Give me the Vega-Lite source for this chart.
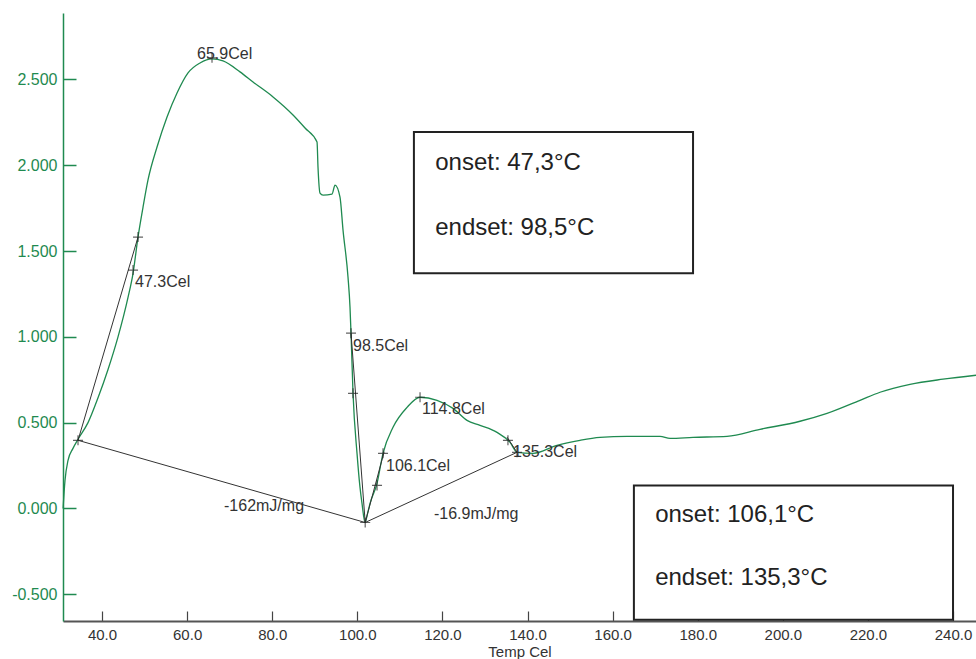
{
  "$schema": "https://vega.github.io/schema/vega-lite/v6.json",
  "width": 913,
  "height": 608,
  "autosize": {"type": "none"},
  "padding": {"left": 63, "top": 13, "right": 0, "bottom": 38},
  "background": "white",
  "config": {"view": {"stroke": null}, "font": "Liberation Sans"},
  "datasets": {
    "curve": [
      {"t": 30.85, "v": 0.0},
      {"t": 31.3, "v": 0.163},
      {"t": 32.01, "v": 0.28},
      {"t": 33.18, "v": 0.35},
      {"t": 34.36, "v": 0.403},
      {"t": 36.71, "v": 0.5},
      {"t": 39.06, "v": 0.645},
      {"t": 41.41, "v": 0.81},
      {"t": 43.76, "v": 1.0},
      {"t": 46.11, "v": 1.23},
      {"t": 47.29, "v": 1.37},
      {"t": 48.46, "v": 1.581},
      {"t": 49.64, "v": 1.756},
      {"t": 50.81, "v": 1.914},
      {"t": 52.93, "v": 2.106},
      {"t": 55.28, "v": 2.281},
      {"t": 57.63, "v": 2.421},
      {"t": 60.21, "v": 2.538},
      {"t": 63.03, "v": 2.596},
      {"t": 65.85, "v": 2.62},
      {"t": 68.44, "v": 2.608},
      {"t": 72.43, "v": 2.544},
      {"t": 75.49, "v": 2.485},
      {"t": 80.19, "v": 2.398},
      {"t": 84.89, "v": 2.293},
      {"t": 87.71, "v": 2.217},
      {"t": 90.53, "v": 2.135},
      {"t": 90.76, "v": 1.989},
      {"t": 91.23, "v": 1.838},
      {"t": 91.94, "v": 1.826},
      {"t": 94.05, "v": 1.832},
      {"t": 94.76, "v": 1.884},
      {"t": 95.93, "v": 1.814},
      {"t": 96.64, "v": 1.622},
      {"t": 97.81, "v": 1.348},
      {"t": 98.28, "v": 1.173},
      {"t": 98.52, "v": 1.021},
      {"t": 98.99, "v": 0.671},
      {"t": 99.93, "v": 0.321},
      {"t": 100.6, "v": 0.13},
      {"t": 101.1, "v": 0.029},
      {"t": 101.81, "v": -0.082},
      {"t": 102.4, "v": -0.03},
      {"t": 102.99, "v": 0.029},
      {"t": 104.63, "v": 0.146},
      {"t": 106.04, "v": 0.321},
      {"t": 108.39, "v": 0.473},
      {"t": 111.68, "v": 0.589},
      {"t": 114.74, "v": 0.648},
      {"t": 118.73, "v": 0.63},
      {"t": 122.49, "v": 0.583},
      {"t": 125.78, "v": 0.513},
      {"t": 128.84, "v": 0.484},
      {"t": 132.83, "v": 0.443},
      {"t": 135.89, "v": 0.385},
      {"t": 137.53, "v": 0.327},
      {"t": 141.29, "v": 0.321},
      {"t": 146.93, "v": 0.368},
      {"t": 152.34, "v": 0.397},
      {"t": 157.04, "v": 0.414},
      {"t": 163.38, "v": 0.42},
      {"t": 171.14, "v": 0.42},
      {"t": 173.49, "v": 0.408},
      {"t": 178.9, "v": 0.414},
      {"t": 186.89, "v": 0.42},
      {"t": 194.64, "v": 0.461},
      {"t": 204.04, "v": 0.508},
      {"t": 210.39, "v": 0.554},
      {"t": 218.14, "v": 0.63},
      {"t": 222.84, "v": 0.677},
      {"t": 229.89, "v": 0.723},
      {"t": 237.65, "v": 0.753},
      {"t": 245.4, "v": 0.776}
    ],
    "lines": [
      {"seg": "tan1", "t": 34.36, "v": 0.397},
      {"seg": "tan1", "t": 48.46, "v": 1.581},
      {"seg": "base1", "t": 34.36, "v": 0.397},
      {"seg": "base1", "t": 101.85, "v": -0.082},
      {"seg": "tan2", "t": 98.52, "v": 1.021},
      {"seg": "tan2", "t": 101.85, "v": -0.082},
      {"seg": "tan3", "t": 101.85, "v": -0.082},
      {"seg": "tan3", "t": 106.3, "v": 0.33},
      {"seg": "base2", "t": 101.85, "v": -0.082},
      {"seg": "base2", "t": 137.53, "v": 0.327},
      {"seg": "tan4", "t": 135.2, "v": 0.415},
      {"seg": "tan4", "t": 137.53, "v": 0.327}
    ],
    "marks": [
      {"t": 34.36, "v": 0.397},
      {"t": 47.29, "v": 1.389},
      {"t": 48.46, "v": 1.581},
      {"t": 65.85, "v": 2.626},
      {"t": 98.52, "v": 1.021},
      {"t": 98.99, "v": 0.671},
      {"t": 101.85, "v": -0.082},
      {"t": 104.63, "v": 0.134},
      {"t": 106.04, "v": 0.321},
      {"t": 114.74, "v": 0.648},
      {"t": 135.4, "v": 0.397},
      {"t": 137.53, "v": 0.327}
    ],
    "labels": [
      {"t": 62.33, "v": 2.649, "text": "65.9Cel"},
      {"t": 47.76, "v": 1.319, "text": "47.3Cel"},
      {"t": 98.99, "v": 0.945, "text": "98.5Cel"},
      {"t": 106.74, "v": 0.245, "text": "106.1Cel"},
      {"t": 115.2, "v": 0.578, "text": "114.8Cel"},
      {"t": 136.6, "v": 0.327, "text": "135.3Cel"},
      {"t": 118.0, "v": -0.035, "text": "-16.9mJ/mg"},
      {"t": 68.67, "v": 0.012, "text": "-162mJ/mg"}
    ],
    "boxes": [
      {"t": 113.3, "t2": 178.9, "v": 2.194, "v2": 1.371},
      {"t": 165.0, "t2": 240.0, "v": 0.134, "v2": -0.648}
    ],
    "boxtext": [
      {"t": 118.3, "v": 2.013, "text": "onset: 47,3°C"},
      {"t": 118.3, "v": 1.634, "text": "endset: 98,5°C"},
      {"t": 170.0, "v": -0.041, "text": "onset: 106,1°C"},
      {"t": 170.0, "v": -0.408, "text": "endset: 135,3°C"}
    ]
  },
  "encoding": {
    "x": {
      "field": "t",
      "type": "quantitative",
      "scale": {"domain": [30.83, 245.4], "nice": false, "zero": false},
      "axis": {
        "title": "Temp Cel",
        "titleFont": "Liberation Sans",
        "titleFontSize": 15,
        "titleFontWeight": "normal",
        "titleColor": "#333",
        "titlePadding": 2,
        "values": [40, 60, 80, 100, 120, 140, 160, 180, 200, 220, 240],
        "labelExpr": "format(datum.value, '.1f')",
        "labelFont": "Liberation Sans",
        "labelFontSize": 15,
        "labelColor": "#333",
        "labelPadding": 16,
        "tickSize": -10,
        "tickColor": "#444",
        "tickWidth": 1.2,
        "domainColor": "#555",
        "domainWidth": 2,
        "grid": false
      }
    },
    "y": {
      "field": "v",
      "type": "quantitative",
      "scale": {"domain": [-0.656, 2.887], "nice": false, "zero": false},
      "axis": {
        "title": null,
        "values": [-0.5, 0, 0.5, 1, 1.5, 2, 2.5],
        "labelExpr": "replace(format(datum.value, '.3f'), '\u2212', '-')",
        "labelFont": "Liberation Sans",
        "labelFontSize": 16,
        "labelColor": "#1f8a50",
        "labelPadding": 19,
        "tickSize": -13,
        "tickColor": "#1f8a50",
        "tickWidth": 1.5,
        "domainColor": "#1f8a50",
        "domainWidth": 1.5,
        "grid": false
      }
    }
  },
  "layer": [
    {
      "mark": {"type": "rule", "color": "#666", "strokeWidth": 1.5},
      "encoding": {"x": {"datum": 30.83}, "x2": {"datum": 245.4}, "y": {"datum": 2.887}}
    },
    {
      "data": {"name": "curve"},
      "mark": {"type": "line", "color": "#1f8a50", "strokeWidth": 1.3, "interpolate": "monotone"}
    },
    {
      "data": {"name": "lines"},
      "mark": {"type": "line", "color": "#333", "strokeWidth": 1},
      "encoding": {"detail": {"field": "seg"}}
    },
    {
      "data": {"name": "marks"},
      "mark": {"type": "point", "shape": "M-1,0H1M0,-1V1", "filled": false, "stroke": "#222", "strokeWidth": 1.2, "size": 100}
    },
    {
      "data": {"name": "labels"},
      "mark": {"type": "text", "align": "left", "baseline": "middle", "font": "Liberation Sans", "fontSize": 16, "color": "#333"},
      "encoding": {"text": {"field": "text"}}
    },
    {
      "data": {"name": "boxes"},
      "mark": {"type": "rect", "fill": "white", "stroke": "#222", "strokeWidth": 2},
      "encoding": {"x2": {"field": "t2"}, "y2": {"field": "v2"}}
    },
    {
      "data": {"name": "boxtext"},
      "mark": {"type": "text", "align": "left", "baseline": "middle", "font": "Liberation Sans", "fontSize": 24, "color": "#222"},
      "encoding": {"text": {"field": "text"}}
    }
  ]
}
